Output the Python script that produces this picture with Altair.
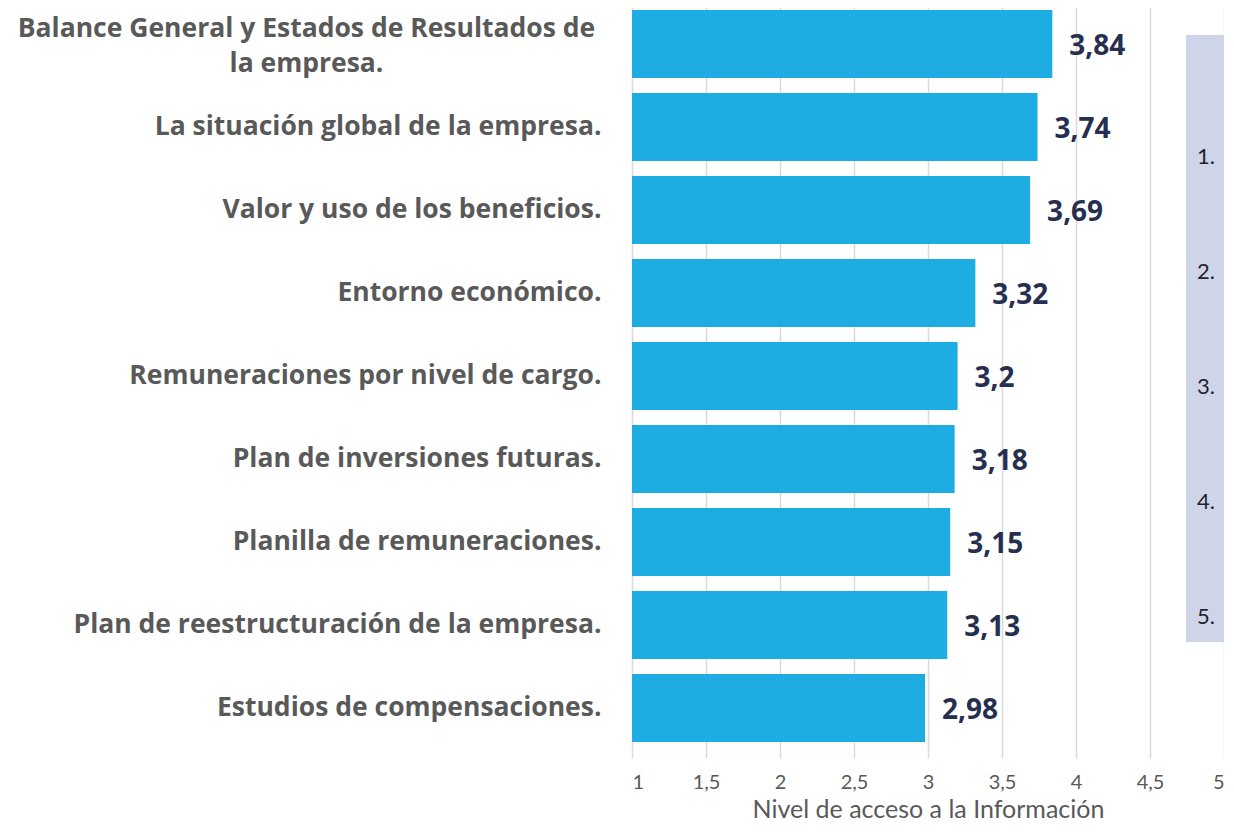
import altair as alt
import pandas as pd

categories = [
    "Balance General y Estados de Resultados de|la empresa.",
    "La situación global de la empresa.",
    "Valor y uso de los beneficios.",
    "Entorno económico.",
    "Remuneraciones por nivel de cargo.",
    "Plan de inversiones futuras.",
    "Planilla de remuneraciones.",
    "Plan de reestructuración de la empresa.",
    "Estudios de compensaciones.",
]
values = [3.84, 3.74, 3.69, 3.32, 3.2, 3.18, 3.15, 3.13, 2.98]
value_labels = ["3,84", "3,74", "3,69", "3,32", "3,2", "3,18", "3,15", "3,13", "2,98"]
legend_labels = ["1.", "2.", "3.", "4.", "5."]
x_ticks = [1, 1.5, 2, 2.5, 3, 3.5, 4, 4.5, 5]

df = pd.DataFrame({"cat": categories, "v": values, "lab": value_labels})
leg = pd.DataFrame({"k": legend_labels})

BOLD_FONT = "Open Sans"
FONT = "Lato"
BAR = "#1EADE3"
GRAY = "#595959"
NAVY = "#262F50"

multi = "indexof(datum.value, '|') >= 0"

y_enc = alt.Y(
    "cat:N",
    sort=categories,
    title=None,
    scale=alt.Scale(paddingInner=0.18, paddingOuter=0.12),
    axis=alt.Axis(
        labelExpr="split(datum.label, '|')",
        labelFont=BOLD_FONT,
        labelFontSize=26.5,
        labelFontWeight="bold",
        labelColor=GRAY,
        labelLineHeight=35,
        labelLimit=700,
        labelAlign={"condition": {"test": multi, "value": "center"}, "value": "right"},
        labelPadding={"condition": {"test": multi, "value": 326}, "value": 31},
        labelOffset={"condition": {"test": multi, "value": -15}, "value": 0},
        ticks=False,
        domain=False,
    ),
)

x_scale = alt.Scale(domain=[1, 5], nice=False, zero=False)
x_axis = alt.Axis(
    values=x_ticks,
    labelExpr="replace(toString(datum.value), '.', ',')",
    labelFont=FONT,
    labelFontSize=20,
    labelColor=GRAY,
    labelPadding=14,
    title="Nivel de acceso a la Información",
    titleFont=FONT,
    titleFontSize=25,
    titleFontWeight="normal",
    titleColor=GRAY,
    titlePadding=5,
    grid=True,
    gridColor="#D9D9D9",
    gridWidth=1.5,
    ticks=True,
    tickColor="#D9D9D9",
    tickWidth=1.5,
    tickSize=6,
    domain=False,
)

bars = alt.Chart(df).mark_bar(color=BAR).encode(
    y=y_enc,
    x=alt.X("v:Q", scale=x_scale, axis=x_axis),
    x2=alt.datum(1),
)

texts = alt.Chart(df).mark_text(
    align="left", baseline="middle", dx=17, dy=3,
    font=BOLD_FONT, fontSize=28, fontWeight="bold", color=NAVY,
).encode(
    y=alt.Y("cat:N", sort=categories),
    x=alt.X("v:Q", scale=x_scale),
    text="lab:N",
)

legend_layer = alt.Chart(leg).mark_point(opacity=0).encode(
    color=alt.Color(
        "k:N",
        scale=alt.Scale(domain=legend_labels, range=["#000000"] * 5),
        legend=alt.Legend(
            orient="none",
            legendX=554,
            legendY=35,
            title="\u00a0",
            titleFontSize=22,
            titlePadding=75,
            fillColor="#CFD5E8",
            padding=14,
            symbolSize=0,
            symbolOpacity=0,
            symbolStrokeWidth=0,
            labelOffset={"expr": "-25"},
            labelFont=FONT,
            labelFontSize=22,
            labelColor="#1F1F2E",
            rowPadding=93,
        ),
    ),
)

chart = alt.layer(bars, texts, legend_layer).properties(
    width=592,
    height=752,
    padding={"left": 624, "top": -8, "right": 0, "bottom": 72},
    autosize=alt.AutoSizeParams(type="none"),
).configure_view(stroke=None)

chart.save("out.html", embed_options={"renderer": "svg", "actions": False})
